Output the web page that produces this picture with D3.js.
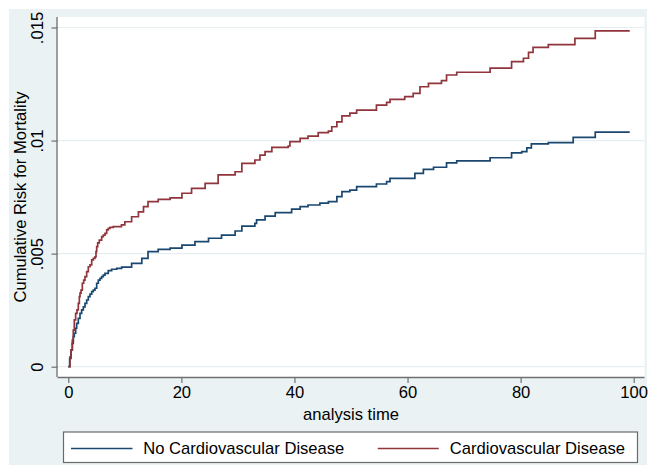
<!DOCTYPE html>
<html>
<head>
<meta charset="utf-8">
<script src="https://cdn.jsdelivr.net/npm/d3@7"></script>
<style>
  html, body { margin: 0; padding: 0; background: #ffffff; }
  svg { display: block; font-family: "Liberation Sans", Arial, sans-serif; }
</style>
</head>
<body>
<svg id="chart" width="650" height="465"></svg>
<script>
// ---- Data ----
const seriesNames = ["No Cardiovascular Disease", "Cardiovascular Disease"];

const timeNoCVD = [0, 0.24, 0.48, 0.71, 0.88, 1.06, 1.30, 1.48, 1.77, 2.07, 2.36, 2.66, 2.95, 3.25, 3.54, 3.84, 4.14, 4.42, 4.72, 5.02, 5.31, 5.61, 5.9, 6.19, 6.49, 7.07, 7.67, 8.56, 9.44, 11.2, 13.0, 14.1, 15.9, 18.0, 20.1, 22.4, 24.8, 27.1, 29.5, 30.7, 33.0, 33.3, 34.8, 36.6, 39.5, 41.0, 42.4, 44.5, 46.0, 47.5, 48.4, 49.8, 51.0, 54.5, 56.3, 56.9, 61.3, 62.8, 64.6, 66.9, 68.7, 74.6, 78.4, 80.2, 81.1, 81.9, 84.9, 89.3, 93.2, 99.3];
const riskNoCVD = [0, 0.00037, 0.00074, 0.00103, 0.00133, 0.00148, 0.00170, 0.00192, 0.00214, 0.00236, 0.00251, 0.00265, 0.00280, 0.00295, 0.00310, 0.00321, 0.00332, 0.00339, 0.00347, 0.00369, 0.00383, 0.00391, 0.00398, 0.00405, 0.00413, 0.00425, 0.00431, 0.00435, 0.00440, 0.00457, 0.00479, 0.00509, 0.00519, 0.00524, 0.00538, 0.00553, 0.00568, 0.00582, 0.00600, 0.00622, 0.00634, 0.00649, 0.00666, 0.00681, 0.00697, 0.00708, 0.00715, 0.00723, 0.00730, 0.00752, 0.00774, 0.00781, 0.00796, 0.00808, 0.00818, 0.00833, 0.00855, 0.00873, 0.00882, 0.00901, 0.00910, 0.00924, 0.00946, 0.00951, 0.00968, 0.00985, 0.00991, 0.01014, 0.01037, 0.01037];

const timeCVD = [0, 0.30, 0.48, 0.71, 0.88, 1.06, 1.30, 1.54, 1.77, 1.95, 2.07, 2.25, 2.48, 2.72, 2.95, 3.25, 3.54, 3.84, 4.14, 4.42, 4.72, 4.90, 5.02, 5.2, 5.48, 5.9, 6.19, 6.49, 6.79, 7.07, 7.37, 7.96, 9.4, 10.0, 11.2, 12.4, 13.3, 14.1, 15.9, 18.0, 20.1, 21.8, 24.2, 26.5, 29.5, 30.7, 33.0, 33.9, 34.8, 36.0, 38.9, 39.2, 41.0, 42.4, 44.2, 46.0, 46.6, 47.5, 48.4, 49.8, 51.0, 54.5, 56.3, 56.9, 59.5, 61.0, 62.2, 63.7, 66.0, 66.9, 68.7, 74.6, 78.4, 80.5, 81.4, 82.2, 84.9, 89.6, 93.2, 99.3];
const riskCVD = [0, 0.00044, 0.00074, 0.00118, 0.00162, 0.00207, 0.00236, 0.00251, 0.00280, 0.00310, 0.00325, 0.00339, 0.00369, 0.00383, 0.00398, 0.00420, 0.00442, 0.00450, 0.00472, 0.00479, 0.00486, 0.00509, 0.00531, 0.00548, 0.00560, 0.00575, 0.00582, 0.00590, 0.00605, 0.00612, 0.00616, 0.00619, 0.00627, 0.00641, 0.00663, 0.00685, 0.00708, 0.00730, 0.00740, 0.00747, 0.00767, 0.00789, 0.00811, 0.00848, 0.00862, 0.00899, 0.00914, 0.00936, 0.00951, 0.00970, 0.00976, 0.00995, 0.01010, 0.01020, 0.01035, 0.01042, 0.01061, 0.01083, 0.01109, 0.01121, 0.01135, 0.01157, 0.01169, 0.01182, 0.01194, 0.01209, 0.01238, 0.01253, 0.01265, 0.01290, 0.01302, 0.01320, 0.01349, 0.01364, 0.01390, 0.01412, 0.01424, 0.01452, 0.01485, 0.01485];

const xTicks = [0, 20, 40, 60, 80, 100];
const yTicks = [0, 0.005, 0.01, 0.015];
const yTickLabels = ["0", ".005", ".01", ".015"];
const xTitle = "analysis time";
const yTitle = "Cumulative Risk for Mortality";
const colors = ["#1a476f", "#90353b"];

// ---- Layout ----
const FS = 16.6;
const svg = d3.select("#chart");
const plot = { left: 57.5, right: 644.5, top: 17, bottom: 377 };

const x = d3.scaleLinear().domain([0, 100]).range([68.3, 633.7]);
const y = d3.scaleLinear().domain([0, 0.015]).range([366.7, 27.5]);

// outer graph region
svg.append("rect").attr("x", 9).attr("y", 9).attr("width", 638).attr("height", 456).attr("fill", "#eaf2f3");
// plot region
svg.append("rect").attr("x", plot.left).attr("y", plot.top)
  .attr("width", plot.right - plot.left).attr("height", plot.bottom - plot.top).attr("fill", "#ffffff");

// gridlines
svg.append("g").selectAll("line").data(yTicks).join("line")
  .attr("x1", plot.left).attr("x2", plot.right)
  .attr("y1", d => y(d)).attr("y2", d => y(d))
  .attr("stroke", "#e6eef2").attr("stroke-width", 1.2);

// series
const line = d3.line().x(d => x(d[0])).y(d => y(d[1])).curve(d3.curveStepAfter);
const dataNo = timeNoCVD.map((t, i) => [t, riskNoCVD[i]]);
const dataCVD = timeCVD.map((t, i) => [t, riskCVD[i]]);
[dataNo, dataCVD].forEach((data, i) => {
  svg.append("path").datum(data).attr("d", line)
    .attr("fill", "none").attr("stroke", colors[i]).attr("stroke-width", 1.7)
    .attr("stroke-linejoin", "miter");
});

// axes
const axisColor = "#6f6f6f";
const xAxis = svg.append("g").attr("transform", `translate(0,${plot.bottom})`)
  .call(d3.axisBottom(x).tickValues(xTicks).tickSize(6).tickPadding(4).tickFormat(d3.format("d")));
xAxis.select(".domain").attr("d", `M${plot.left},0.5H${plot.right}`).attr("stroke", axisColor).attr("stroke-width", 1.3);
xAxis.selectAll(".tick line").attr("stroke", axisColor).attr("stroke-width", 1.2);
xAxis.selectAll(".tick text").attr("font-size", FS).attr("fill", "#000").attr("y", 9).attr("dy", "0.71em")
  .attr("font-family", "'Liberation Sans', Arial, sans-serif");

const yAxis = svg.append("g").attr("transform", `translate(${plot.left},0)`)
  .call(d3.axisLeft(y).tickValues(yTicks).tickSize(6).tickFormat((d, i) => yTickLabels[i]));
yAxis.select(".domain").attr("d", `M-0.5,${plot.top}V${plot.bottom}`).attr("stroke", axisColor).attr("stroke-width", 1.3);
yAxis.selectAll(".tick line").attr("stroke", axisColor).attr("stroke-width", 1.2);
yAxis.selectAll(".tick text")
  .attr("font-size", FS).attr("fill", "#000")
  .attr("font-family", "'Liberation Sans', Arial, sans-serif")
  .attr("x", null).attr("dy", null)
  .attr("text-anchor", "middle")
  .attr("transform", "translate(-14.5,0) rotate(-90)");

// axis titles
svg.append("text").attr("x", (plot.left + plot.right) / 2).attr("y", 420)
  .attr("text-anchor", "middle").attr("font-size", FS).attr("fill", "#000").text(xTitle);
svg.append("text").attr("transform", `translate(25.5,${(plot.top + plot.bottom) / 2}) rotate(-90)`)
  .attr("text-anchor", "middle").attr("font-size", FS).attr("fill", "#000").text(yTitle);

// legend
svg.append("rect").attr("x", 63.5).attr("y", 432).attr("width", 574).attr("height", 30.5)
  .attr("fill", "#ffffff").attr("stroke", "#6a6a6a").attr("stroke-width", 1.2);
const legY = 448.5;
svg.append("text").attr("x", 143.3).attr("y", 454).attr("font-size", FS).attr("fill", "#000").text(seriesNames[0]);
svg.append("line").attr("x1", 71).attr("x2", 132.5).attr("y1", legY).attr("y2", legY)
  .attr("stroke", colors[0]).attr("stroke-width", 1.7);
const t2 = svg.append("text").attr("x", 625).attr("y", 454).attr("text-anchor", "end")
  .attr("font-size", FS).attr("fill", "#000").text(seriesNames[1]);
const w2 = t2.node().getComputedTextLength();
const start2 = 625 - w2;
svg.append("line").attr("x1", start2 - 72).attr("x2", start2 - 11).attr("y1", legY).attr("y2", legY)
  .attr("stroke", colors[1]).attr("stroke-width", 1.7);
</script>
</body>
</html>
